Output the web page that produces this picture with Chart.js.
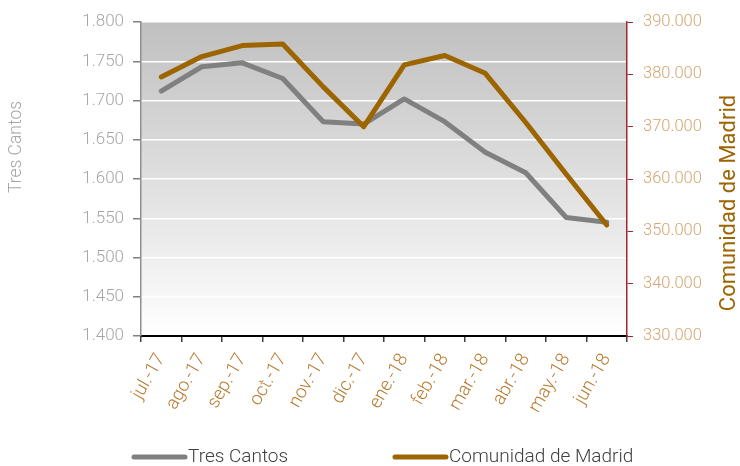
<!DOCTYPE html>
<html>
<head>
<meta charset="utf-8">
<script src="https://cdn.jsdelivr.net/npm/chart.js@4"></script>
<style>
  html, body { margin: 0; padding: 0; background: #fff; }
  #wrap { width: 740px; height: 466px; }
</style>
</head>
<body>
<div id="wrap"><canvas id="chart" width="740" height="466"></canvas></div>
<script>
const months = ['jul.-17', 'ago.-17', 'sep.-17', 'oct.-17', 'nov.-17', 'dic.-17',
                'ene.-18', 'feb.-18', 'mar.-18', 'abr.-18', 'may.-18', 'jun.-18'];
const tresCantos = [1712, 1743, 1748, 1728, 1673, 1670, 1702, 1673, 1634, 1608, 1551, 1545];
const madrid = [379500, 383400, 385500, 385800, 377600, 370000, 381800, 383600, 380200, 370800, 360900, 351200];
const leftTicks = [1400, 1800, 50];
const rightTicks = [330000, 390000, 10000];

const FONT = 'Roboto';
const fmt = v => String(v).replace(/(\d)(\d{3})$/, '$1.$2');

// gradient fill + axis titles + legend drawn by hand
const decor = {
  id: 'decor',
  beforeDraw(chart) {
    const { ctx, chartArea: a } = chart;
    const g = ctx.createLinearGradient(0, a.top, 0, a.bottom);
    g.addColorStop(0, '#c0c0c0');
    g.addColorStop(0.55, '#e2e2e2');
    g.addColorStop(1, '#ffffff');
    ctx.save();
    ctx.fillStyle = g;
    ctx.fillRect(a.left, a.top, a.right - a.left, a.bottom - a.top);
    ctx.restore();
  },
  afterDraw(chart) {
    const ctx = chart.ctx;
    ctx.save();
    ctx.textBaseline = 'middle';
    ctx.textAlign = 'center';
    ctx.font = '300 17.5px ' + FONT;
    ctx.fillStyle = '#a6a6a6';
    ctx.translate(17, 147);
    ctx.rotate(-Math.PI / 2);
    ctx.fillText('Tres Cantos', 0, 0);
    ctx.restore();

    ctx.save();
    ctx.textBaseline = 'middle';
    ctx.textAlign = 'center';
    ctx.font = '22px ' + FONT;
    ctx.fillStyle = '#9c6500';
    ctx.translate(729, 203);
    ctx.rotate(-Math.PI / 2);
    ctx.fillText('Comunidad de Madrid', 0, 0);
    ctx.restore();

    // legend
    const items = [
      { x: 132, label: 'Tres Cantos', color: '#808080' },
      { x: 393, label: 'Comunidad de Madrid', color: '#9c6500' }
    ];
    ctx.save();
    ctx.font = '300 19px ' + FONT;
    ctx.textBaseline = 'middle';
    ctx.textAlign = 'left';
    items.forEach(it => {
      ctx.strokeStyle = it.color;
      ctx.lineWidth = 5;
      ctx.lineCap = 'round';
      ctx.beginPath();
      ctx.moveTo(it.x + 2, 457);
      ctx.lineTo(it.x + 53, 457);
      ctx.stroke();
      ctx.fillStyle = '#404040';
      ctx.fillText(it.label, it.x + 56, 457);
    });
    ctx.restore();
  }
};

new Chart(document.getElementById('chart').getContext('2d'), {
  type: 'line',
  data: {
    labels: months,
    datasets: [
      {
        label: 'Comunidad de Madrid',
        data: madrid,
        yAxisID: 'y2',
        borderColor: '#9c6500',
        borderWidth: 5,
        pointRadius: 0,
        tension: 0,
        borderCapStyle: 'round',
        borderJoinStyle: 'round'
      },
      {
        label: 'Tres Cantos',
        data: tresCantos,
        yAxisID: 'y',
        borderColor: '#808080',
        borderWidth: 5,
        pointRadius: 0,
        tension: 0,
        borderCapStyle: 'round',
        borderJoinStyle: 'round',
        order: 1
      }
    ]
  },
  options: {
    responsive: false,
    animation: false,
    layout: { padding: { top: 22, left: 0, right: 0, bottom: 0 } },
    plugins: { legend: { display: false }, tooltip: { enabled: false } },
    scales: {
      x: {
        offset: true,
        grid: { offset: true, drawOnChartArea: false, drawTicks: true, tickLength: 6, tickColor: '#404040', lineWidth: 1.5 },
        border: { color: '#000000', width: 2 },
        ticks: {
          color: '#b87a2e',
          font: { family: FONT, size: 18.5, weight: '300' },
          minRotation: 60,
          maxRotation: 60,
          padding: 8,
          autoSkip: false
        },
        afterFit: s => { s.height = 130; }
      },
      y: {
        position: 'left',
        min: leftTicks[0],
        max: leftTicks[1],
        grid: { color: '#ffffff', lineWidth: 1.5, tickColor: '#808080', tickLength: 8 },
        border: { color: '#909090', width: 1.5 },
        ticks: {
          stepSize: leftTicks[2],
          color: '#a6a6a6',
          font: { family: FONT, size: 17, weight: '300' },
          padding: 9,
          callback: v => fmt(v)
        },
        afterFit: s => { s.width = 141; }
      },
      y2: {
        position: 'right',
        min: rightTicks[0],
        max: rightTicks[1],
        grid: { drawOnChartArea: false, tickColor: '#a0282a', tickLength: 6 },
        border: { color: '#a0282a', width: 1.5 },
        ticks: {
          stepSize: rightTicks[2],
          color: '#d4a673',
          font: { family: FONT, size: 16.5, weight: '300' },
          padding: 10,
          callback: v => fmt(v)
        },
        afterFit: s => { s.width = 113; }
      }
    }
  },
  plugins: [decor]
});
</script>
</body>
</html>
